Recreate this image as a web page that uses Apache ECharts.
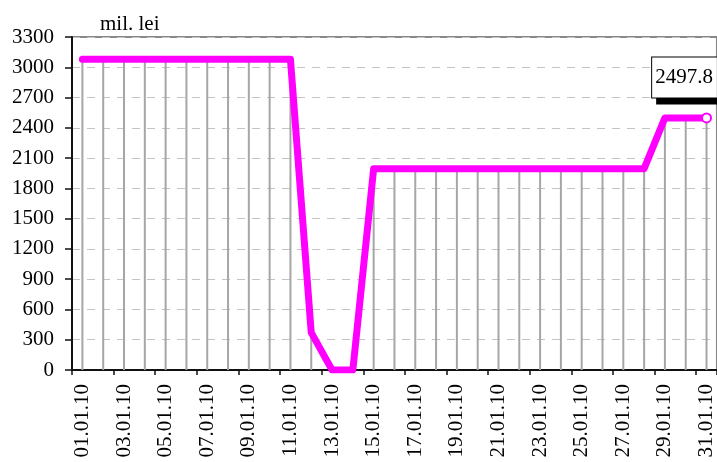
<!DOCTYPE html>
<html>
<head>
<meta charset="utf-8">
<script src="https://cdn.jsdelivr.net/npm/echarts@6/dist/echarts.min.js"></script>
<style>
html,body{margin:0;padding:0;background:#fff;}
#chart{width:717px;height:462px;}
</style>
</head>
<body>
<div id="chart"></div>
<script>
var categories = ["01.01.10","02.01.10","03.01.10","04.01.10","05.01.10","06.01.10","07.01.10","08.01.10","09.01.10","10.01.10","11.01.10","12.01.10","13.01.10","14.01.10","15.01.10","16.01.10","17.01.10","18.01.10","19.01.10","20.01.10","21.01.10","22.01.10","23.01.10","24.01.10","25.01.10","26.01.10","27.01.10","28.01.10","29.01.10","30.01.10","31.01.10"];
var values = [3080,3080,3080,3080,3080,3080,3080,3080,3080,3080,3080,370,0,0,1995,1995,1995,1995,1995,1995,1995,1995,1995,1995,1995,1995,1995,1995,2497.8,2497.8,2497.8];
var yTicks = {min: 0, max: 3300, step: 300};
var unitLabel = "mil. lei";

var FONT = "'Liberation Serif','Times New Roman',serif";
var last = values.length - 1;
var lineData = values.map(function (v, i) {
  if (i !== last) return v;
  return {
    value: v,
    symbol: 'circle',
    symbolSize: 9,
    itemStyle: {color: '#ffffff', borderColor: '#ff00ff', borderWidth: 2},
    label: {
      show: true,
      position: 'top',
      distance: 5,
      offset: [-22, -10],
      formatter: '{c}',
      fontFamily: FONT,
      fontSize: 21,
      lineHeight: 22,
      color: '#000',
      backgroundColor: '#ffffff',
      borderColor: '#000000',
      borderWidth: 1,
      padding: [9, 4, 9, 3],
      shadowColor: '#000000',
      shadowBlur: 0,
      shadowOffsetX: 5,
      shadowOffsetY: 6
    }
  };
});

var chart = echarts.init(document.getElementById('chart'), null, {renderer: 'canvas'});
chart.setOption({
  animation: false,
  backgroundColor: '#ffffff',
  grid: {left: 72, top: 37, width: 646.4, height: 333, show: true, borderColor: '#888888', borderWidth: 2, backgroundColor: 'transparent'},
  graphic: [{
    type: 'text', left: 100, top: 14,
    style: {text: unitLabel, font: '21px ' + FONT, fill: '#000'}
  }],
  xAxis: {
    type: 'category',
    data: categories,
    boundaryGap: true,
    axisLine: {show: true, lineStyle: {color: '#111', width: 2}},
    axisTick: {show: true, interval: 1, length: 5, lineStyle: {color: '#111', width: 1.5}},
    axisLabel: {interval: 1, rotate: 90, margin: 14, fontFamily: FONT, fontSize: 21, color: '#000'},
    splitLine: {show: false}
  },
  yAxis: {
    type: 'value',
    min: yTicks.min, max: yTicks.max, interval: yTicks.step,
    axisLine: {show: true, lineStyle: {color: '#111', width: 2}},
    axisTick: {show: true, length: 7, lineStyle: {color: '#111', width: 1.5}},
    axisLabel: {margin: 18, fontFamily: FONT, fontSize: 21, color: '#000', formatter: function (v) { return String(v); }},
    splitLine: {show: true, lineStyle: {color: '#c4c4c4', width: 1, type: [8, 7]}}
  },
  series: [
    {
      type: 'bar',
      data: values,
      barWidth: 2,
      itemStyle: {color: '#a6a6a6'},
      z: 2,
      silent: true
    },
    {
      type: 'line',
      data: lineData,
      symbol: 'none',
      showSymbol: true,
      showAllSymbol: true,
      lineStyle: {color: '#ff00ff', width: 7, cap: 'round', join: 'round'},
      itemStyle: {color: '#ff00ff'},
      z: 4,
      silent: true
    }
  ]
});
</script>
</body>
</html>
